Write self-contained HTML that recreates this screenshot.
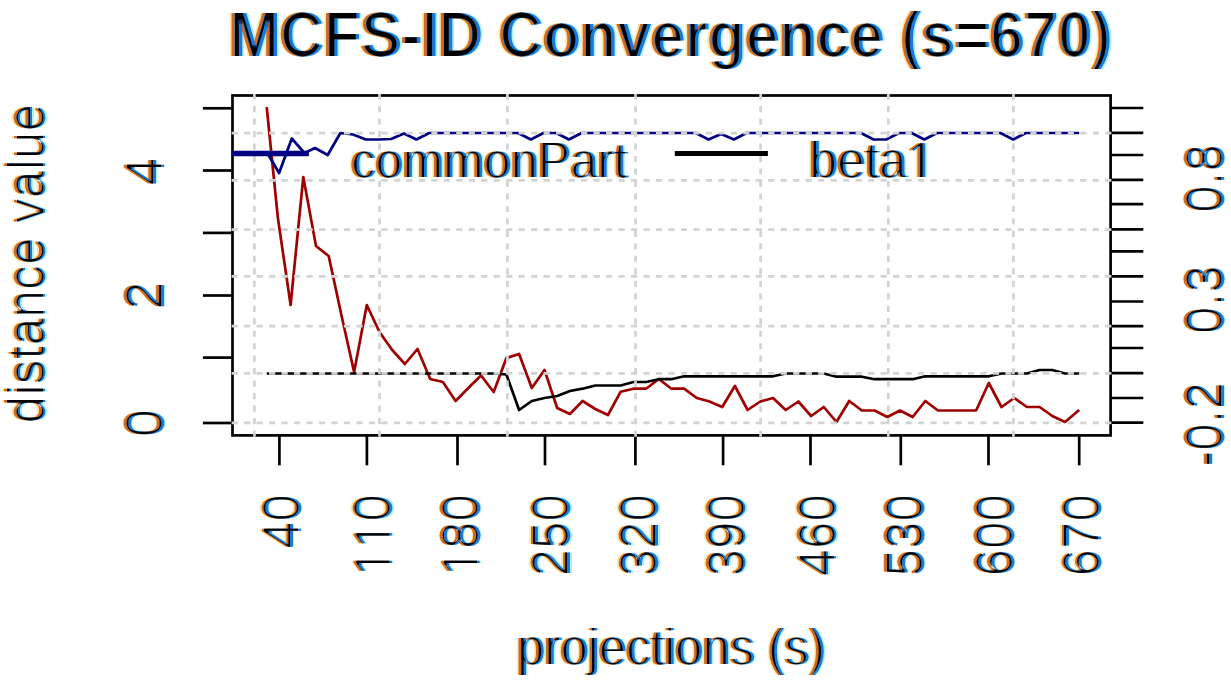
<!DOCTYPE html><html><head><meta charset="utf-8"><style>html,body{margin:0;padding:0;background:#fff;overflow:hidden;width:1231px;height:681px;}svg{display:block;}text{font-family:"Liberation Sans",sans-serif;}</style></head><body>
<svg width="1231" height="681" viewBox="0 0 1231 681">
<defs><filter id="er" x="-5%" y="-5%" width="110%" height="110%"><feMorphology operator="erode" radius="1"/></filter><filter id="ery" x="-5%" y="-5%" width="110%" height="110%"><feMorphology operator="erode" radius="0 1"/></filter><filter id="er2" x="-5%" y="-5%" width="110%" height="110%"><feMorphology operator="erode" radius="2 1"/></filter><filter id="ery2" x="-5%" y="-5%" width="110%" height="110%"><feMorphology operator="erode" radius="0 2"/></filter></defs>
<g fill="none" stroke-width="2.7" stroke-linejoin="round" stroke-linecap="butt">
<polyline points="266.7,107.0 277.9,218.0 290.6,305.0 303.3,177.0 316.0,246.0 328.7,256.0 341.4,315.0 354.1,372.0 366.8,305.0 379.5,332.0 392.2,350.0 404.9,364.0 417.5,349.0 430.2,379.0 442.9,382.0 455.6,401.0 468.3,388.0 481.0,375.5 493.7,392.0 506.4,358.0 519.1,354.0 531.8,388.0 544.5,370.0 557.2,408.0 569.9,414.0 582.6,401.0 595.3,409.0 608.0,415.0 620.7,391.7 633.4,388.7 646.1,388.7 658.8,379.0 671.4,388.7 684.1,388.7 696.8,398.0 709.5,401.5 722.2,407.0 734.9,386.0 747.6,410.0 760.3,401.5 773.0,398.0 785.7,410.0 798.4,401.5 811.1,416.0 823.8,407.0 836.5,422.0 849.2,401.0 861.9,410.5 874.6,410.5 887.3,417.0 900.0,410.5 912.7,417.0 925.3,401.0 938.0,410.5 950.7,410.5 963.4,410.5 976.1,410.5 988.8,383.0 1001.5,407.0 1014.2,398.0 1026.9,407.0 1039.6,407.0 1052.3,416.0 1065.0,422.0 1079.2,410.0" stroke="#a00000"/>
<polyline points="266.7,373.5 277.9,373.5 290.6,373.5 303.3,373.5 316.0,373.5 328.7,373.5 341.4,373.5 354.1,373.5 366.8,373.5 379.5,373.5 392.2,373.5 404.9,373.5 417.5,373.5 430.2,373.5 442.9,373.5 455.6,373.5 468.3,373.5 481.0,373.5 493.7,373.5 506.4,374.5 519.1,410.0 531.8,401.0 544.5,398.0 557.2,396.0 569.9,391.0 582.6,388.7 595.3,385.5 608.0,385.5 620.7,385.5 633.4,382.0 646.1,382.0 658.8,379.2 671.4,379.2 684.1,376.3 696.8,376.3 709.5,376.3 722.2,376.3 734.9,376.3 747.6,376.3 760.3,376.3 773.0,376.3 785.7,373.5 798.4,373.5 811.1,373.5 823.8,373.5 836.5,376.7 849.2,376.7 861.9,376.7 874.6,379.2 887.3,379.2 900.0,379.2 912.7,379.2 925.3,376.3 938.0,376.3 950.7,376.3 963.4,376.3 976.1,376.3 988.8,376.3 1001.5,373.5 1014.2,373.5 1026.9,373.5 1039.6,370.0 1052.3,370.0 1065.0,373.5 1079.2,373.5" stroke="#000"/>
<polyline points="266.7,152.0 279.1,173.0 291.8,138.5 304.5,153.0 315.0,148.0 327.7,155.0 340.4,133.0 353.1,134.5 365.8,139.5 378.5,139.5 391.2,139.0 403.9,133.5 416.5,139.5 429.2,133.0 441.9,133.0 454.6,133.0 467.3,133.0 480.0,133.0 492.7,133.0 505.4,133.0 518.1,133.0 530.8,139.5 543.5,133.0 556.2,133.0 568.9,139.5 581.6,133.0 594.3,133.0 607.0,133.0 619.7,133.0 632.4,133.0 645.1,133.0 657.8,133.0 670.4,133.0 683.1,133.0 695.8,133.0 708.5,139.5 721.2,134.0 733.9,139.5 746.6,133.0 759.3,133.0 772.0,133.0 784.7,133.0 797.4,133.0 810.1,133.0 822.8,133.0 835.5,133.0 848.2,133.0 860.9,133.0 873.6,139.5 886.3,139.5 899.0,133.0 911.7,133.0 924.3,139.5 937.0,133.0 949.7,133.0 962.4,133.0 975.1,133.0 987.8,133.0 1000.5,133.0 1013.2,139.5 1025.9,133.0 1038.6,133.0 1051.3,133.0 1064.0,133.0 1079.2,133.0" stroke="#000080"/>
</g>
<g stroke="#000" stroke-width="2.7" fill="none">
<rect x="232.5" y="95.5" width="878.1" height="339.9"/>
<line x1="279.4" y1="435.4" x2="279.4" y2="465.3"/>
<line x1="366.9" y1="435.4" x2="366.9" y2="465.3"/>
<line x1="457.5" y1="435.4" x2="457.5" y2="465.3"/>
<line x1="545.0" y1="435.4" x2="545.0" y2="465.3"/>
<line x1="635.4" y1="435.4" x2="635.4" y2="465.3"/>
<line x1="723.1" y1="435.4" x2="723.1" y2="465.3"/>
<line x1="810.5" y1="435.4" x2="810.5" y2="465.3"/>
<line x1="900.8" y1="435.4" x2="900.8" y2="465.3"/>
<line x1="988.5" y1="435.4" x2="988.5" y2="465.3"/>
<line x1="1079.2" y1="435.4" x2="1079.2" y2="465.3"/>
<line x1="202.9" y1="108.3" x2="232.5" y2="108.3"/>
<line x1="202.9" y1="170.5" x2="232.5" y2="170.5"/>
<line x1="202.9" y1="232.9" x2="232.5" y2="232.9"/>
<line x1="202.9" y1="295.5" x2="232.5" y2="295.5"/>
<line x1="202.9" y1="357.6" x2="232.5" y2="357.6"/>
<line x1="202.9" y1="423.0" x2="232.5" y2="423.0"/>
<line x1="1110.6" y1="108.0" x2="1143.3" y2="108.0"/>
<line x1="1110.6" y1="132.9" x2="1143.3" y2="132.9"/>
<line x1="1110.6" y1="155.0" x2="1143.3" y2="155.0"/>
<line x1="1110.6" y1="179.8" x2="1143.3" y2="179.8"/>
<line x1="1110.6" y1="204.1" x2="1143.3" y2="204.1"/>
<line x1="1110.6" y1="229.3" x2="1143.3" y2="229.3"/>
<line x1="1110.6" y1="251.4" x2="1143.3" y2="251.4"/>
<line x1="1110.6" y1="276.4" x2="1143.3" y2="276.4"/>
<line x1="1110.6" y1="301.5" x2="1143.3" y2="301.5"/>
<line x1="1110.6" y1="326.1" x2="1143.3" y2="326.1"/>
<line x1="1110.6" y1="348.0" x2="1143.3" y2="348.0"/>
<line x1="1110.6" y1="373.1" x2="1143.3" y2="373.1"/>
<line x1="1110.6" y1="398.0" x2="1143.3" y2="398.0"/>
<line x1="1110.6" y1="422.6" x2="1143.3" y2="422.6"/>
</g>
<g stroke="#d3d3d3" stroke-width="2.7" stroke-dasharray="6.2 6.28" fill="none">
<line x1="254.4" y1="436.7" x2="254.4" y2="94.1"/>
<line x1="379.5" y1="436.7" x2="379.5" y2="94.1"/>
<line x1="507.4" y1="436.7" x2="507.4" y2="94.1"/>
<line x1="635.5" y1="436.7" x2="635.5" y2="94.1"/>
<line x1="760.6" y1="436.7" x2="760.6" y2="94.1"/>
<line x1="888.3" y1="436.7" x2="888.3" y2="94.1"/>
<line x1="1013.4" y1="436.7" x2="1013.4" y2="94.1"/>
<line x1="231.6" y1="133.2" x2="1111.9" y2="133.2"/>
<line x1="231.6" y1="180.3" x2="1111.9" y2="180.3"/>
<line x1="231.6" y1="229.7" x2="1111.9" y2="229.7"/>
<line x1="231.6" y1="276.4" x2="1111.9" y2="276.4"/>
<line x1="231.6" y1="326.1" x2="1111.9" y2="326.1"/>
<line x1="231.6" y1="373.3" x2="1111.9" y2="373.3"/>
<line x1="231.6" y1="422.8" x2="1111.9" y2="422.8"/>
</g>
<line x1="231.6" y1="153.5" x2="308.9" y2="153.5" stroke="#000080" stroke-width="5.4"/>
<line x1="674.8" y1="153.4" x2="767.9" y2="153.4" stroke="#000" stroke-width="5"/>
<g filter="url(#ery)" fill="#ffe8a8"><g transform="translate(225.80 56.50) scale(0.949 1)"><text x="0" y="0" font-size="64" font-weight="bold">MCFS-ID Convergence (s=670)</text></g></g>
<g filter="url(#ery)" fill="#a8f4ff"><g transform="translate(232.20 56.50) scale(0.949 1)"><text x="0" y="0" font-size="64" font-weight="bold">MCFS-ID Convergence (s=670)</text></g></g>
<g filter="url(#ery)" fill="#d06a20"><g transform="translate(227.60 56.50) scale(0.949 1)"><text x="0" y="0" font-size="64" font-weight="bold">MCFS-ID Convergence (s=670)</text></g></g>
<g filter="url(#ery)" fill="#1a78d8"><g transform="translate(230.40 56.50) scale(0.949 1)"><text x="0" y="0" font-size="64" font-weight="bold">MCFS-ID Convergence (s=670)</text></g></g>
<g filter="url(#er2)" fill="#000"><g transform="translate(229.00 56.50) scale(0.949 1)"><text x="0" y="0" font-size="64" font-weight="bold">MCFS-ID Convergence (s=670)</text></g></g>
<g filter="url(#ery)" fill="#ffe8a8"><g transform="translate(347.80 178.00) scale(0.937 1)"><text x="0" y="0" font-size="52">commonPart</text></g></g>
<g filter="url(#ery)" fill="#a8f4ff"><g transform="translate(354.20 178.00) scale(0.937 1)"><text x="0" y="0" font-size="52">commonPart</text></g></g>
<g filter="url(#ery)" fill="#d06a20"><g transform="translate(349.30 178.00) scale(0.937 1)"><text x="0" y="0" font-size="52">commonPart</text></g></g>
<g filter="url(#ery)" fill="#1a78d8"><g transform="translate(352.70 178.00) scale(0.937 1)"><text x="0" y="0" font-size="52">commonPart</text></g></g>
<g filter="url(#er)" fill="#000"><g transform="translate(351.00 178.00) scale(0.937 1)"><text x="0" y="0" font-size="52">commonPart</text></g></g>
<g filter="url(#ery)" fill="#ffe8a8"><g transform="translate(806.00 178.00) scale(0.962 1)"><text x="0" y="0" font-size="52">beta </text><path d="M515,0L515,1237L197,1010L197,1180L530,1409L696,1409L696,0Z" transform="translate(101.21 0) scale(0.02539 -0.02539)"/></g></g>
<g filter="url(#ery)" fill="#a8f4ff"><g transform="translate(812.40 178.00) scale(0.962 1)"><text x="0" y="0" font-size="52">beta </text><path d="M515,0L515,1237L197,1010L197,1180L530,1409L696,1409L696,0Z" transform="translate(101.21 0) scale(0.02539 -0.02539)"/></g></g>
<g filter="url(#ery)" fill="#d06a20"><g transform="translate(807.50 178.00) scale(0.962 1)"><text x="0" y="0" font-size="52">beta </text><path d="M515,0L515,1237L197,1010L197,1180L530,1409L696,1409L696,0Z" transform="translate(101.21 0) scale(0.02539 -0.02539)"/></g></g>
<g filter="url(#ery)" fill="#1a78d8"><g transform="translate(810.90 178.00) scale(0.962 1)"><text x="0" y="0" font-size="52">beta </text><path d="M515,0L515,1237L197,1010L197,1180L530,1409L696,1409L696,0Z" transform="translate(101.21 0) scale(0.02539 -0.02539)"/></g></g>
<g filter="url(#er)" fill="#000"><g transform="translate(809.20 178.00) scale(0.962 1)"><text x="0" y="0" font-size="52">beta </text><path d="M515,0L515,1237L197,1010L197,1180L530,1409L696,1409L696,0Z" transform="translate(101.21 0) scale(0.02539 -0.02539)"/></g></g>
<g filter="url(#ery)" fill="#ffe8a8"><g transform="translate(667.80 664.60) scale(0.944 1)"><text x="0" y="0" font-size="52" text-anchor="middle">projections (s)</text></g></g>
<g filter="url(#ery)" fill="#a8f4ff"><g transform="translate(674.20 664.60) scale(0.944 1)"><text x="0" y="0" font-size="52" text-anchor="middle">projections (s)</text></g></g>
<g filter="url(#ery)" fill="#d06a20"><g transform="translate(669.30 664.60) scale(0.944 1)"><text x="0" y="0" font-size="52" text-anchor="middle">projections (s)</text></g></g>
<g filter="url(#ery)" fill="#1a78d8"><g transform="translate(672.70 664.60) scale(0.944 1)"><text x="0" y="0" font-size="52" text-anchor="middle">projections (s)</text></g></g>
<g filter="url(#er)" fill="#000"><g transform="translate(671.00 664.60) scale(0.944 1)"><text x="0" y="0" font-size="52" text-anchor="middle">projections (s)</text></g></g>
<g filter="url(#ery)" fill="#ffe8a8"><g transform="translate(40.40 263.50) rotate(-90) scale(0.962 1)"><text x="0" y="0" font-size="52" text-anchor="middle">distance value</text></g></g>
<g filter="url(#ery)" fill="#a8f4ff"><g transform="translate(46.80 263.50) rotate(-90) scale(0.962 1)"><text x="0" y="0" font-size="52" text-anchor="middle">distance value</text></g></g>
<g filter="url(#ery)" fill="#d06a20"><g transform="translate(41.90 263.50) rotate(-90) scale(0.962 1)"><text x="0" y="0" font-size="52" text-anchor="middle">distance value</text></g></g>
<g filter="url(#ery)" fill="#1a78d8"><g transform="translate(45.30 263.50) rotate(-90) scale(0.962 1)"><text x="0" y="0" font-size="52" text-anchor="middle">distance value</text></g></g>
<g filter="url(#er)" fill="#000"><g transform="translate(43.60 263.50) rotate(-90) scale(0.962 1)"><text x="0" y="0" font-size="52" text-anchor="middle">distance value</text></g></g>
<g filter="url(#ery)" fill="#ffe8a8"><g transform="translate(158.80 423.00) rotate(-90)"><text x="0" y="0" font-size="51" text-anchor="middle">0</text></g></g>
<g filter="url(#ery)" fill="#a8f4ff"><g transform="translate(165.20 423.00) rotate(-90)"><text x="0" y="0" font-size="51" text-anchor="middle">0</text></g></g>
<g filter="url(#ery)" fill="#d06a20"><g transform="translate(160.30 423.00) rotate(-90)"><text x="0" y="0" font-size="51" text-anchor="middle">0</text></g></g>
<g filter="url(#ery)" fill="#1a78d8"><g transform="translate(163.70 423.00) rotate(-90)"><text x="0" y="0" font-size="51" text-anchor="middle">0</text></g></g>
<g filter="url(#er)" fill="#000"><g transform="translate(162.00 423.00) rotate(-90)"><text x="0" y="0" font-size="51" text-anchor="middle">0</text></g></g>
<g filter="url(#ery)" fill="#ffe8a8"><g transform="translate(158.80 295.50) rotate(-90)"><text x="0" y="0" font-size="51" text-anchor="middle">2</text></g></g>
<g filter="url(#ery)" fill="#a8f4ff"><g transform="translate(165.20 295.50) rotate(-90)"><text x="0" y="0" font-size="51" text-anchor="middle">2</text></g></g>
<g filter="url(#ery)" fill="#d06a20"><g transform="translate(160.30 295.50) rotate(-90)"><text x="0" y="0" font-size="51" text-anchor="middle">2</text></g></g>
<g filter="url(#ery)" fill="#1a78d8"><g transform="translate(163.70 295.50) rotate(-90)"><text x="0" y="0" font-size="51" text-anchor="middle">2</text></g></g>
<g filter="url(#er)" fill="#000"><g transform="translate(162.00 295.50) rotate(-90)"><text x="0" y="0" font-size="51" text-anchor="middle">2</text></g></g>
<g filter="url(#ery)" fill="#ffe8a8"><g transform="translate(158.80 171.50) rotate(-90)"><text x="0" y="0" font-size="51" text-anchor="middle">4</text></g></g>
<g filter="url(#ery)" fill="#a8f4ff"><g transform="translate(165.20 171.50) rotate(-90)"><text x="0" y="0" font-size="51" text-anchor="middle">4</text></g></g>
<g filter="url(#ery)" fill="#d06a20"><g transform="translate(160.30 171.50) rotate(-90)"><text x="0" y="0" font-size="51" text-anchor="middle">4</text></g></g>
<g filter="url(#ery)" fill="#1a78d8"><g transform="translate(163.70 171.50) rotate(-90)"><text x="0" y="0" font-size="51" text-anchor="middle">4</text></g></g>
<g filter="url(#er)" fill="#000"><g transform="translate(162.00 171.50) rotate(-90)"><text x="0" y="0" font-size="51" text-anchor="middle">4</text></g></g>
<g filter="url(#ery)" fill="#ffe8a8"><g transform="translate(1218.80 424.50) rotate(-90) scale(0.97 1)"><text x="0" y="0" font-size="51" text-anchor="middle">-0.2</text></g></g>
<g filter="url(#ery)" fill="#a8f4ff"><g transform="translate(1225.20 424.50) rotate(-90) scale(0.97 1)"><text x="0" y="0" font-size="51" text-anchor="middle">-0.2</text></g></g>
<g filter="url(#ery)" fill="#d06a20"><g transform="translate(1220.30 424.50) rotate(-90) scale(0.97 1)"><text x="0" y="0" font-size="51" text-anchor="middle">-0.2</text></g></g>
<g filter="url(#ery)" fill="#1a78d8"><g transform="translate(1223.70 424.50) rotate(-90) scale(0.97 1)"><text x="0" y="0" font-size="51" text-anchor="middle">-0.2</text></g></g>
<g filter="url(#er)" fill="#000"><g transform="translate(1222.00 424.50) rotate(-90) scale(0.97 1)"><text x="0" y="0" font-size="51" text-anchor="middle">-0.2</text></g></g>
<g filter="url(#ery)" fill="#ffe8a8"><g transform="translate(1218.80 299.60) rotate(-90) scale(0.97 1)"><text x="0" y="0" font-size="51" text-anchor="middle">0.3</text></g></g>
<g filter="url(#ery)" fill="#a8f4ff"><g transform="translate(1225.20 299.60) rotate(-90) scale(0.97 1)"><text x="0" y="0" font-size="51" text-anchor="middle">0.3</text></g></g>
<g filter="url(#ery)" fill="#d06a20"><g transform="translate(1220.30 299.60) rotate(-90) scale(0.97 1)"><text x="0" y="0" font-size="51" text-anchor="middle">0.3</text></g></g>
<g filter="url(#ery)" fill="#1a78d8"><g transform="translate(1223.70 299.60) rotate(-90) scale(0.97 1)"><text x="0" y="0" font-size="51" text-anchor="middle">0.3</text></g></g>
<g filter="url(#er)" fill="#000"><g transform="translate(1222.00 299.60) rotate(-90) scale(0.97 1)"><text x="0" y="0" font-size="51" text-anchor="middle">0.3</text></g></g>
<g filter="url(#ery)" fill="#ffe8a8"><g transform="translate(1218.80 178.30) rotate(-90) scale(0.97 1)"><text x="0" y="0" font-size="51" text-anchor="middle">0.8</text></g></g>
<g filter="url(#ery)" fill="#a8f4ff"><g transform="translate(1225.20 178.30) rotate(-90) scale(0.97 1)"><text x="0" y="0" font-size="51" text-anchor="middle">0.8</text></g></g>
<g filter="url(#ery)" fill="#d06a20"><g transform="translate(1220.30 178.30) rotate(-90) scale(0.97 1)"><text x="0" y="0" font-size="51" text-anchor="middle">0.8</text></g></g>
<g filter="url(#ery)" fill="#1a78d8"><g transform="translate(1223.70 178.30) rotate(-90) scale(0.97 1)"><text x="0" y="0" font-size="51" text-anchor="middle">0.8</text></g></g>
<g filter="url(#er)" fill="#000"><g transform="translate(1222.00 178.30) rotate(-90) scale(0.97 1)"><text x="0" y="0" font-size="51" text-anchor="middle">0.8</text></g></g>
<g filter="url(#ery)" fill="#ffe8a8"><g transform="translate(296.00 494.00) rotate(-90) scale(0.97 1)"><text x="0" y="0" font-size="51" text-anchor="end">40</text></g></g>
<g filter="url(#ery)" fill="#a8f4ff"><g transform="translate(302.40 494.00) rotate(-90) scale(0.97 1)"><text x="0" y="0" font-size="51" text-anchor="end">40</text></g></g>
<g filter="url(#ery)" fill="#d06a20"><g transform="translate(297.50 494.00) rotate(-90) scale(0.97 1)"><text x="0" y="0" font-size="51" text-anchor="end">40</text></g></g>
<g filter="url(#ery)" fill="#1a78d8"><g transform="translate(300.90 494.00) rotate(-90) scale(0.97 1)"><text x="0" y="0" font-size="51" text-anchor="end">40</text></g></g>
<g filter="url(#er)" fill="#000"><g transform="translate(299.20 494.00) rotate(-90) scale(0.97 1)"><text x="0" y="0" font-size="51" text-anchor="end">40</text></g></g>
<g filter="url(#ery)" fill="#ffe8a8"><g transform="translate(387.20 494.00) rotate(-90) scale(0.97 1)"><text x="0" y="0" font-size="51" text-anchor="end">  0</text><path d="M515,0L515,1237L197,1010L197,1180L530,1409L696,1409L696,0Z" transform="translate(-85.09 0) scale(0.02490 -0.02490)"/><path d="M515,0L515,1237L197,1010L197,1180L530,1409L696,1409L696,0Z" transform="translate(-56.73 0) scale(0.02490 -0.02490)"/></g></g>
<g filter="url(#ery)" fill="#a8f4ff"><g transform="translate(393.60 494.00) rotate(-90) scale(0.97 1)"><text x="0" y="0" font-size="51" text-anchor="end">  0</text><path d="M515,0L515,1237L197,1010L197,1180L530,1409L696,1409L696,0Z" transform="translate(-85.09 0) scale(0.02490 -0.02490)"/><path d="M515,0L515,1237L197,1010L197,1180L530,1409L696,1409L696,0Z" transform="translate(-56.73 0) scale(0.02490 -0.02490)"/></g></g>
<g filter="url(#ery)" fill="#d06a20"><g transform="translate(388.70 494.00) rotate(-90) scale(0.97 1)"><text x="0" y="0" font-size="51" text-anchor="end">  0</text><path d="M515,0L515,1237L197,1010L197,1180L530,1409L696,1409L696,0Z" transform="translate(-85.09 0) scale(0.02490 -0.02490)"/><path d="M515,0L515,1237L197,1010L197,1180L530,1409L696,1409L696,0Z" transform="translate(-56.73 0) scale(0.02490 -0.02490)"/></g></g>
<g filter="url(#ery)" fill="#1a78d8"><g transform="translate(392.10 494.00) rotate(-90) scale(0.97 1)"><text x="0" y="0" font-size="51" text-anchor="end">  0</text><path d="M515,0L515,1237L197,1010L197,1180L530,1409L696,1409L696,0Z" transform="translate(-85.09 0) scale(0.02490 -0.02490)"/><path d="M515,0L515,1237L197,1010L197,1180L530,1409L696,1409L696,0Z" transform="translate(-56.73 0) scale(0.02490 -0.02490)"/></g></g>
<g filter="url(#er)" fill="#000"><g transform="translate(390.40 494.00) rotate(-90) scale(0.97 1)"><text x="0" y="0" font-size="51" text-anchor="end">  0</text><path d="M515,0L515,1237L197,1010L197,1180L530,1409L696,1409L696,0Z" transform="translate(-85.09 0) scale(0.02490 -0.02490)"/><path d="M515,0L515,1237L197,1010L197,1180L530,1409L696,1409L696,0Z" transform="translate(-56.73 0) scale(0.02490 -0.02490)"/></g></g>
<g filter="url(#ery)" fill="#ffe8a8"><g transform="translate(474.80 494.00) rotate(-90) scale(0.97 1)"><text x="0" y="0" font-size="51" text-anchor="end"> 80</text><path d="M515,0L515,1237L197,1010L197,1180L530,1409L696,1409L696,0Z" transform="translate(-85.09 0) scale(0.02490 -0.02490)"/></g></g>
<g filter="url(#ery)" fill="#a8f4ff"><g transform="translate(481.20 494.00) rotate(-90) scale(0.97 1)"><text x="0" y="0" font-size="51" text-anchor="end"> 80</text><path d="M515,0L515,1237L197,1010L197,1180L530,1409L696,1409L696,0Z" transform="translate(-85.09 0) scale(0.02490 -0.02490)"/></g></g>
<g filter="url(#ery)" fill="#d06a20"><g transform="translate(476.30 494.00) rotate(-90) scale(0.97 1)"><text x="0" y="0" font-size="51" text-anchor="end"> 80</text><path d="M515,0L515,1237L197,1010L197,1180L530,1409L696,1409L696,0Z" transform="translate(-85.09 0) scale(0.02490 -0.02490)"/></g></g>
<g filter="url(#ery)" fill="#1a78d8"><g transform="translate(479.70 494.00) rotate(-90) scale(0.97 1)"><text x="0" y="0" font-size="51" text-anchor="end"> 80</text><path d="M515,0L515,1237L197,1010L197,1180L530,1409L696,1409L696,0Z" transform="translate(-85.09 0) scale(0.02490 -0.02490)"/></g></g>
<g filter="url(#er)" fill="#000"><g transform="translate(478.00 494.00) rotate(-90) scale(0.97 1)"><text x="0" y="0" font-size="51" text-anchor="end"> 80</text><path d="M515,0L515,1237L197,1010L197,1180L530,1409L696,1409L696,0Z" transform="translate(-85.09 0) scale(0.02490 -0.02490)"/></g></g>
<g filter="url(#ery)" fill="#ffe8a8"><g transform="translate(565.20 494.00) rotate(-90) scale(0.97 1)"><text x="0" y="0" font-size="51" text-anchor="end">250</text></g></g>
<g filter="url(#ery)" fill="#a8f4ff"><g transform="translate(571.60 494.00) rotate(-90) scale(0.97 1)"><text x="0" y="0" font-size="51" text-anchor="end">250</text></g></g>
<g filter="url(#ery)" fill="#d06a20"><g transform="translate(566.70 494.00) rotate(-90) scale(0.97 1)"><text x="0" y="0" font-size="51" text-anchor="end">250</text></g></g>
<g filter="url(#ery)" fill="#1a78d8"><g transform="translate(570.10 494.00) rotate(-90) scale(0.97 1)"><text x="0" y="0" font-size="51" text-anchor="end">250</text></g></g>
<g filter="url(#er)" fill="#000"><g transform="translate(568.40 494.00) rotate(-90) scale(0.97 1)"><text x="0" y="0" font-size="51" text-anchor="end">250</text></g></g>
<g filter="url(#ery)" fill="#ffe8a8"><g transform="translate(653.20 494.00) rotate(-90) scale(0.97 1)"><text x="0" y="0" font-size="51" text-anchor="end">320</text></g></g>
<g filter="url(#ery)" fill="#a8f4ff"><g transform="translate(659.60 494.00) rotate(-90) scale(0.97 1)"><text x="0" y="0" font-size="51" text-anchor="end">320</text></g></g>
<g filter="url(#ery)" fill="#d06a20"><g transform="translate(654.70 494.00) rotate(-90) scale(0.97 1)"><text x="0" y="0" font-size="51" text-anchor="end">320</text></g></g>
<g filter="url(#ery)" fill="#1a78d8"><g transform="translate(658.10 494.00) rotate(-90) scale(0.97 1)"><text x="0" y="0" font-size="51" text-anchor="end">320</text></g></g>
<g filter="url(#er)" fill="#000"><g transform="translate(656.40 494.00) rotate(-90) scale(0.97 1)"><text x="0" y="0" font-size="51" text-anchor="end">320</text></g></g>
<g filter="url(#ery)" fill="#ffe8a8"><g transform="translate(740.30 494.00) rotate(-90) scale(0.97 1)"><text x="0" y="0" font-size="51" text-anchor="end">390</text></g></g>
<g filter="url(#ery)" fill="#a8f4ff"><g transform="translate(746.70 494.00) rotate(-90) scale(0.97 1)"><text x="0" y="0" font-size="51" text-anchor="end">390</text></g></g>
<g filter="url(#ery)" fill="#d06a20"><g transform="translate(741.80 494.00) rotate(-90) scale(0.97 1)"><text x="0" y="0" font-size="51" text-anchor="end">390</text></g></g>
<g filter="url(#ery)" fill="#1a78d8"><g transform="translate(745.20 494.00) rotate(-90) scale(0.97 1)"><text x="0" y="0" font-size="51" text-anchor="end">390</text></g></g>
<g filter="url(#er)" fill="#000"><g transform="translate(743.50 494.00) rotate(-90) scale(0.97 1)"><text x="0" y="0" font-size="51" text-anchor="end">390</text></g></g>
<g filter="url(#ery)" fill="#ffe8a8"><g transform="translate(831.30 494.00) rotate(-90) scale(0.97 1)"><text x="0" y="0" font-size="51" text-anchor="end">460</text></g></g>
<g filter="url(#ery)" fill="#a8f4ff"><g transform="translate(837.70 494.00) rotate(-90) scale(0.97 1)"><text x="0" y="0" font-size="51" text-anchor="end">460</text></g></g>
<g filter="url(#ery)" fill="#d06a20"><g transform="translate(832.80 494.00) rotate(-90) scale(0.97 1)"><text x="0" y="0" font-size="51" text-anchor="end">460</text></g></g>
<g filter="url(#ery)" fill="#1a78d8"><g transform="translate(836.20 494.00) rotate(-90) scale(0.97 1)"><text x="0" y="0" font-size="51" text-anchor="end">460</text></g></g>
<g filter="url(#er)" fill="#000"><g transform="translate(834.50 494.00) rotate(-90) scale(0.97 1)"><text x="0" y="0" font-size="51" text-anchor="end">460</text></g></g>
<g filter="url(#ery)" fill="#ffe8a8"><g transform="translate(918.60 494.00) rotate(-90) scale(0.97 1)"><text x="0" y="0" font-size="51" text-anchor="end">530</text></g></g>
<g filter="url(#ery)" fill="#a8f4ff"><g transform="translate(925.00 494.00) rotate(-90) scale(0.97 1)"><text x="0" y="0" font-size="51" text-anchor="end">530</text></g></g>
<g filter="url(#ery)" fill="#d06a20"><g transform="translate(920.10 494.00) rotate(-90) scale(0.97 1)"><text x="0" y="0" font-size="51" text-anchor="end">530</text></g></g>
<g filter="url(#ery)" fill="#1a78d8"><g transform="translate(923.50 494.00) rotate(-90) scale(0.97 1)"><text x="0" y="0" font-size="51" text-anchor="end">530</text></g></g>
<g filter="url(#er)" fill="#000"><g transform="translate(921.80 494.00) rotate(-90) scale(0.97 1)"><text x="0" y="0" font-size="51" text-anchor="end">530</text></g></g>
<g filter="url(#ery)" fill="#ffe8a8"><g transform="translate(1008.80 494.00) rotate(-90) scale(0.97 1)"><text x="0" y="0" font-size="51" text-anchor="end">600</text></g></g>
<g filter="url(#ery)" fill="#a8f4ff"><g transform="translate(1015.20 494.00) rotate(-90) scale(0.97 1)"><text x="0" y="0" font-size="51" text-anchor="end">600</text></g></g>
<g filter="url(#ery)" fill="#d06a20"><g transform="translate(1010.30 494.00) rotate(-90) scale(0.97 1)"><text x="0" y="0" font-size="51" text-anchor="end">600</text></g></g>
<g filter="url(#ery)" fill="#1a78d8"><g transform="translate(1013.70 494.00) rotate(-90) scale(0.97 1)"><text x="0" y="0" font-size="51" text-anchor="end">600</text></g></g>
<g filter="url(#er)" fill="#000"><g transform="translate(1012.00 494.00) rotate(-90) scale(0.97 1)"><text x="0" y="0" font-size="51" text-anchor="end">600</text></g></g>
<g filter="url(#ery)" fill="#ffe8a8"><g transform="translate(1096.00 494.00) rotate(-90) scale(0.97 1)"><text x="0" y="0" font-size="51" text-anchor="end">670</text></g></g>
<g filter="url(#ery)" fill="#a8f4ff"><g transform="translate(1102.40 494.00) rotate(-90) scale(0.97 1)"><text x="0" y="0" font-size="51" text-anchor="end">670</text></g></g>
<g filter="url(#ery)" fill="#d06a20"><g transform="translate(1097.50 494.00) rotate(-90) scale(0.97 1)"><text x="0" y="0" font-size="51" text-anchor="end">670</text></g></g>
<g filter="url(#ery)" fill="#1a78d8"><g transform="translate(1100.90 494.00) rotate(-90) scale(0.97 1)"><text x="0" y="0" font-size="51" text-anchor="end">670</text></g></g>
<g filter="url(#er)" fill="#000"><g transform="translate(1099.20 494.00) rotate(-90) scale(0.97 1)"><text x="0" y="0" font-size="51" text-anchor="end">670</text></g></g>
</svg></body></html>
